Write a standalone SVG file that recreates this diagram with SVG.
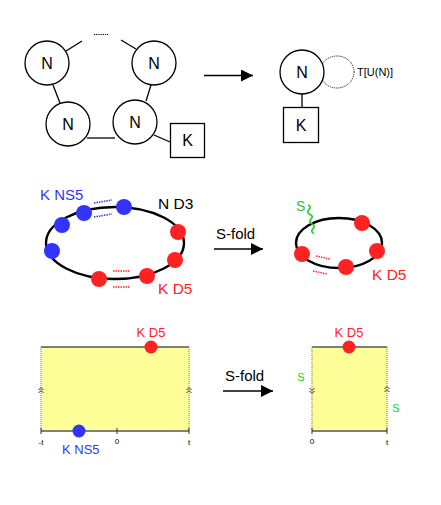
<svg xmlns="http://www.w3.org/2000/svg" width="441" height="505" viewBox="0 0 441 505">
<defs>
<style>
.ln{stroke:#000;stroke-width:1.3;fill:none}
.nd{fill:#fff;stroke:#000;stroke-width:1.3}
.t{font-family:"Liberation Sans",Arial,sans-serif}
.big{font-size:16px;text-anchor:middle}
.blue{fill:#3333ff}
.red{fill:#ff2222}
.bdot{fill:#3333ff}
.rdot{fill:#ff2222}
.bdash{stroke:#3333ff;stroke-width:1.5;stroke-dasharray:1.5,1}
.rdash{stroke:#ff2222;stroke-width:1.5;stroke-dasharray:1.5,1}
.chev{stroke:#333;stroke-width:1;fill:none}
</style>
<marker id="ah" viewBox="0 0 10 10" refX="10" refY="5" markerWidth="16" markerHeight="12" markerUnits="userSpaceOnUse" orient="auto"><path d="M0,0 L10,5 L0,10 z" fill="#000"/></marker>
</defs>

<g id="connectors">
<line class="ln" x1="66" y1="51" x2="82" y2="41"/>
<line class="ln" x1="121" y1="40" x2="136" y2="49"/>
<line x1="94" y1="34.5" x2="108" y2="34.5" stroke="#000" stroke-width="1.2" stroke-dasharray="1.2,1"/>
<line class="ln" x1="53" y1="85" x2="60" y2="103"/>
<line class="ln" x1="151" y1="85" x2="146" y2="101"/>
<line class="ln" x1="87" y1="138" x2="115" y2="138"/>
<line class="ln" x1="154" y1="135" x2="170" y2="142"/>
<line class="ln" x1="204" y1="75.5" x2="253" y2="75.5" marker-end="url(#ah)"/>
<line class="ln" x1="302" y1="94" x2="302" y2="107"/>
<ellipse cx="337" cy="72" rx="17" ry="16" fill="none" stroke="#000" stroke-width="1" stroke-dasharray="1,1"/>
<line class="ln" x1="214" y1="249" x2="263" y2="249" marker-end="url(#ah)"/>
<line class="ln" x1="223" y1="391" x2="273" y2="391" marker-end="url(#ah)"/>
</g>

<g id="node-n1"><circle class="nd" cx="47" cy="63" r="22"/><text class="t big" x="47" y="69">N</text></g>
<g id="node-n2"><circle class="nd" cx="154" cy="63" r="22"/><text class="t big" x="154" y="69">N</text></g>
<g id="node-n3"><circle class="nd" cx="68" cy="124" r="22"/><text class="t big" x="68" y="130">N</text></g>
<g id="node-n4"><circle class="nd" cx="135" cy="122" r="22"/><text class="t big" x="135" y="128">N</text></g>
<g id="node-k1"><rect class="nd" x="170.5" y="123.5" width="34" height="34"/><text class="t big" x="187.5" y="146">K</text></g>

<g id="node-n5"><circle class="nd" cx="302" cy="72" r="22"/><text class="t big" x="302" y="78">N</text></g>
<text class="t" x="357" y="76" font-size="11">T[U(N)]</text>
<g id="node-k2"><rect class="nd" x="283.5" y="107.5" width="35" height="35"/><text class="t big" x="301" y="131">K</text></g>

<g id="ring1">
<ellipse cx="115" cy="243" rx="69" ry="36" fill="none" stroke="#000" stroke-width="2.4"/>
<circle class="bdot" cx="52" cy="251" r="8"/>
<circle class="bdot" cx="62" cy="225" r="8"/>
<circle class="bdot" cx="84" cy="213" r="8"/>
<circle class="bdot" cx="124" cy="207" r="8"/>
<circle class="rdot" cx="178" cy="232" r="8"/>
<circle class="rdot" cx="175" cy="260" r="8"/>
<circle class="rdot" cx="147" cy="276" r="8"/>
<circle class="rdot" cx="99" cy="279" r="8"/>
<line class="bdash" x1="94" y1="203" x2="112" y2="200"/>
<line class="bdash" x1="94" y1="217" x2="112" y2="214"/>
<line class="rdash" x1="113" y1="271" x2="130" y2="271"/>
<line class="rdash" x1="113" y1="287" x2="130" y2="287"/>
<text class="t blue" x="40" y="200" font-size="15">K NS5</text>
<text class="t" x="158" y="209" font-size="15.5">N D3</text>
<text class="t red" x="158" y="294" font-size="15.5">K D5</text>
</g>
<text class="t" x="216" y="239" font-size="15">S-fold</text>

<g id="ring2">
<ellipse cx="339" cy="243" rx="43" ry="25" fill="none" stroke="#000" stroke-width="2.4"/>
<circle class="rdot" cx="362" cy="223" r="8"/>
<circle class="rdot" cx="377" cy="251" r="8"/>
<circle class="rdot" cx="346" cy="267" r="8"/>
<circle class="rdot" cx="302" cy="254" r="8"/>
<line class="rdash" x1="316" y1="256" x2="330" y2="259"/>
<line class="rdash" x1="313" y1="271" x2="327" y2="274"/>
<path d="M308,205 c7,3 -5,6 2,9.5 c7,3 -5,6 2,9.5 c7,3 -5,6 2,9.5" fill="none" stroke="#22cc22" stroke-width="1.6"/>
<text class="t" x="296" y="211" font-size="14" fill="#22cc22">S</text>
<text class="t red" x="372" y="280" font-size="15.5">K D5</text>
</g>

<g id="strip1">
<rect x="41" y="347" width="148" height="84" fill="#ffff99"/>
<line x1="41" y1="347" x2="189" y2="347" stroke="#555" stroke-width="1.3"/>
<line x1="41" y1="431" x2="189" y2="431" stroke="#555" stroke-width="1.3"/>
<line x1="41" y1="347" x2="41" y2="431" stroke="#777" stroke-width="1" stroke-dasharray="1,1"/>
<line x1="189" y1="347" x2="189" y2="431" stroke="#777" stroke-width="1" stroke-dasharray="1,1"/>
<line x1="41" y1="428" x2="41" y2="434" stroke="#333" stroke-width="1"/>
<line x1="117" y1="428" x2="117" y2="434" stroke="#333" stroke-width="1"/>
<line x1="189" y1="428" x2="189" y2="434" stroke="#333" stroke-width="1"/>
<path class="chev" d="M38.5,390 l2.5,-2.5 l2.5,2.5 M38.5,393 l2.5,-2.5 l2.5,2.5"/>
<path class="chev" d="M186.5,390 l2.5,-2.5 l2.5,2.5 M186.5,393 l2.5,-2.5 l2.5,2.5"/>
<circle class="rdot" cx="151" cy="347" r="6.5"/>
<circle class="bdot" cx="79" cy="431" r="6.5"/>
<text class="t red" x="151" y="337" font-size="13" text-anchor="middle">K D5</text>
<text class="t blue" x="62" y="454" font-size="13">K NS5</text>
<text class="t" x="41" y="445" font-size="8" text-anchor="middle">-t</text>
<text class="t" x="117" y="444" font-size="8" text-anchor="middle">0</text>
<text class="t" x="189" y="445" font-size="8" text-anchor="middle">t</text>
</g>
<text class="t" x="225" y="381" font-size="15">S-fold</text>

<g id="strip2">
<rect x="312" y="347" width="75" height="84" fill="#ffff99"/>
<line x1="312" y1="347" x2="387" y2="347" stroke="#555" stroke-width="1.3"/>
<line x1="312" y1="431" x2="387" y2="431" stroke="#555" stroke-width="1.3"/>
<line x1="312" y1="347" x2="312" y2="431" stroke="#22cc22" stroke-width="1.2" stroke-dasharray="1,1"/>
<line x1="387" y1="347" x2="387" y2="431" stroke="#22cc22" stroke-width="1.2" stroke-dasharray="1,1"/>
<line x1="312" y1="428" x2="312" y2="434" stroke="#333" stroke-width="1"/>
<line x1="387" y1="428" x2="387" y2="434" stroke="#333" stroke-width="1"/>
<path class="chev" d="M309.5,388 l2.5,2.5 l2.5,-2.5 M309.5,391 l2.5,2.5 l2.5,-2.5"/>
<path class="chev" d="M384.5,389 l2.5,-2.5 l2.5,2.5 M384.5,392 l2.5,-2.5 l2.5,2.5"/>
<circle class="rdot" cx="349" cy="347" r="6.5"/>
<text class="t red" x="349" y="337" font-size="13" text-anchor="middle">K D5</text>
<text class="t" x="301" y="381" font-size="11" fill="#22cc22" text-anchor="middle">S</text>
<text class="t" x="396" y="412" font-size="11" fill="#22cc22" text-anchor="middle">S</text>
<text class="t" x="312" y="444" font-size="8" text-anchor="middle">0</text>
<text class="t" x="387" y="445" font-size="8" text-anchor="middle">t</text>
</g>
</svg>
